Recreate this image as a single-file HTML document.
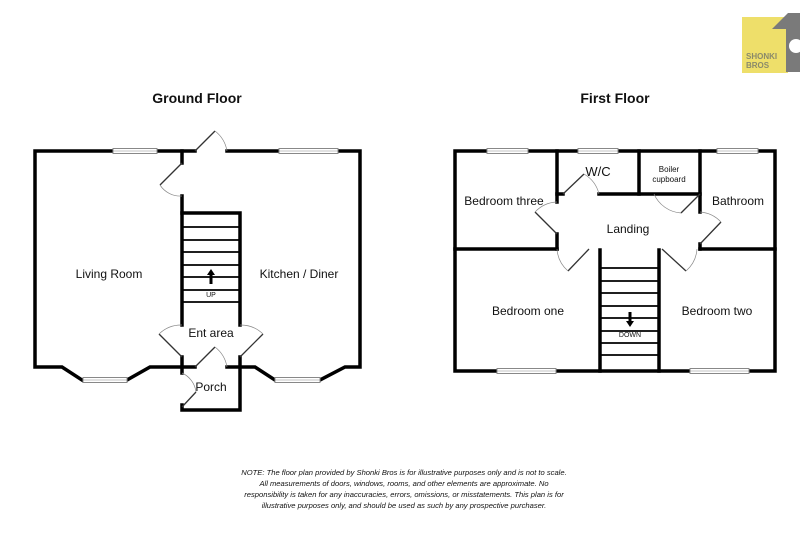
<!DOCTYPE html>
<html><head><meta charset="utf-8"><style>
html,body{margin:0;padding:0;background:#fff;}
svg{display:block}
text{font-family:"Liberation Sans",sans-serif;fill:#111}
</style></head><body>
<svg width="811" height="546" viewBox="0 0 811 546" xmlns="http://www.w3.org/2000/svg">
<rect width="811" height="546" fill="#fff"/>
<!-- logo -->
<rect x="742" y="17" width="46" height="56" fill="#eedf6a"/>
<polygon points="772,29 788,13 800,13 800,72 786,72 786,29" fill="#7a7a7a"/>
<circle cx="796" cy="46" r="7" fill="#fff"/>
<text x="746" y="59" font-size="8" font-weight="bold" style="fill:#8a8a6a">SHONKI</text>
<text x="746" y="68" font-size="8" font-weight="bold" style="fill:#8a8a6a">BROS</text>

<text x="197" y="103" font-size="14" font-weight="bold" text-anchor="middle">Ground Floor</text>
<text x="615" y="103" font-size="14" font-weight="bold" text-anchor="middle">First Floor</text>

<g fill="none" stroke="#000" stroke-width="3.5" stroke-linecap="square">
<polyline points="195,151 35,151 35,367 62,367 82,380"/>
<polyline points="127,380 150,367 195,367"/>
<polyline points="227,151 360,151 360,367 345,367 320,380"/>
<polyline points="275,380 255,367 227,367"/>
<line x1="182" y1="151" x2="182" y2="163"/>
<line x1="182" y1="196" x2="182" y2="325"/>
<polyline points="182,213 240,213 240,325"/>
<line x1="182" y1="357" x2="182" y2="373"/>
<polyline points="182,405 182,410 240,410 240,357"/>
<rect x="455" y="151" width="320" height="220"/>
<line x1="455" y1="249" x2="557" y2="249"/>
<line x1="700" y1="249" x2="775" y2="249"/>
<line x1="557" y1="151" x2="557" y2="202"/>
<line x1="557" y1="234" x2="557" y2="249"/>
<line x1="557" y1="194" x2="563" y2="194"/>
<line x1="599" y1="194" x2="700" y2="194"/>
<line x1="639" y1="151" x2="639" y2="194"/>
<line x1="700" y1="151" x2="700" y2="212"/>
<line x1="700" y1="244" x2="700" y2="249"/>
<line x1="600" y1="250" x2="600" y2="371"/>
<line x1="659" y1="250" x2="659" y2="371"/>
</g>
<g stroke="#000" stroke-width="1.8">
<line x1="182" y1="227" x2="240" y2="227"/><line x1="182" y1="240" x2="240" y2="240"/>
<line x1="182" y1="252" x2="240" y2="252"/><line x1="182" y1="265" x2="240" y2="265"/>
<line x1="182" y1="277" x2="240" y2="277"/><line x1="182" y1="290" x2="240" y2="290"/>
<line x1="182" y1="302" x2="240" y2="302"/>
<line x1="600" y1="268" x2="659" y2="268"/><line x1="600" y1="281" x2="659" y2="281"/>
<line x1="600" y1="293" x2="659" y2="293"/><line x1="600" y1="306" x2="659" y2="306"/>
<line x1="600" y1="318" x2="659" y2="318"/><line x1="600" y1="331" x2="659" y2="331"/>
<line x1="600" y1="343" x2="659" y2="343"/><line x1="600" y1="355" x2="659" y2="355"/>
</g>
<polygon points="211,269 207,275 209.5,275 209.5,284 212.5,284 212.5,275 215,275" fill="#000"/>
<polygon points="630,327 626,321 628.5,321 628.5,312 631.5,312 631.5,321 634,321" fill="#000"/>
<text x="211" y="297" font-size="7" text-anchor="middle">UP</text>
<text x="630" y="337" font-size="7" text-anchor="middle">DOWN</text>
<g fill="#fff" stroke="#888" stroke-width="1">
<rect x="113" y="148.5" width="44" height="5"/><rect x="279" y="148.5" width="59" height="5"/>
<rect x="83" y="377.5" width="44" height="5"/><rect x="275" y="377.5" width="45" height="5"/>
<rect x="487" y="148.5" width="41" height="5"/><rect x="578" y="148.5" width="40" height="5"/>
<rect x="717" y="148.5" width="41" height="5"/>
<rect x="497" y="368.5" width="59" height="5"/><rect x="690" y="368.5" width="59" height="5"/>
</g>
<g fill="none" stroke="#888" stroke-width="0.6">
<line x1="113" y1="151" x2="157" y2="151"/><line x1="279" y1="151" x2="338" y2="151"/>
<line x1="83" y1="380" x2="127" y2="380"/><line x1="275" y1="380" x2="320" y2="380"/>
<line x1="487" y1="151" x2="528" y2="151"/><line x1="578" y1="151" x2="618" y2="151"/>
<line x1="717" y1="151" x2="758" y2="151"/><line x1="497" y1="371" x2="556" y2="371"/><line x1="690" y1="371" x2="749" y2="371"/>
</g>
<g stroke="#333" stroke-width="1.3" fill="none">
<line x1="195" y1="151" x2="215" y2="131"/>
<line x1="182" y1="163" x2="160" y2="185"/>
<line x1="182" y1="357" x2="159" y2="334"/>
<line x1="240" y1="357" x2="263" y2="334"/>
<line x1="195" y1="367" x2="215" y2="347"/>
<line x1="182" y1="407" x2="196" y2="392"/>
<line x1="563" y1="194" x2="584" y2="174"/>
<line x1="557" y1="234" x2="535" y2="212"/>
<line x1="589" y1="249" x2="568" y2="271"/>
<line x1="700" y1="194" x2="681" y2="213"/>
<line x1="700" y1="244" x2="721" y2="222"/>
<line x1="662" y1="249" x2="686" y2="271"/>
</g>
<g stroke="#888" stroke-width="0.7" fill="none">
<path d="M215,131 A32,32 0 0 1 227,151"/>
<path d="M160,185 A24,24 0 0 0 182,196"/>
<path d="M159,334 A32,32 0 0 1 182,325"/>
<path d="M263,334 A32,32 0 0 0 240,325"/>
<path d="M215,347 A32,32 0 0 1 227,367"/>
<path d="M182,373 A24,24 0 0 1 196,392"/>
<path d="M584,174 A32,32 0 0 1 599,194"/>
<path d="M535,212 A32,32 0 0 1 557,202"/>
<path d="M568,271 A32,32 0 0 1 557,249"/>
<path d="M681,213 A32,32 0 0 1 654,194"/>
<path d="M721,222 A32,32 0 0 0 700,212"/>
<path d="M686,271 A32,32 0 0 0 697,249"/>
</g>
<g font-size="12">
<text x="109" y="278" text-anchor="middle">Living Room</text>
<text x="299" y="278" text-anchor="middle">Kitchen / Diner</text>
<text x="211" y="337" text-anchor="middle">Ent area</text>
<text x="211" y="391" text-anchor="middle">Porch</text>
<text x="504" y="205" text-anchor="middle">Bedroom three</text>
<text x="598" y="176" text-anchor="middle" font-size="13">W/C</text>
<text x="738" y="205" text-anchor="middle">Bathroom</text>
<text x="628" y="233" text-anchor="middle">Landing</text>
<text x="528" y="315" text-anchor="middle">Bedroom one</text>
<text x="717" y="315" text-anchor="middle">Bedroom two</text>
</g>
<text x="669" y="172" font-size="8" text-anchor="middle">Boiler</text>
<text x="669" y="182" font-size="8" text-anchor="middle">cupboard</text>
<g font-size="7.6" font-style="italic" text-anchor="middle" style="fill:#333">
<text x="404" y="475">NOTE: The floor plan provided by Shonki Bros is for illustrative purposes only and is not to scale.</text>
<text x="404" y="486">All measurements of doors, windows, rooms, and other elements are approximate. No</text>
<text x="404" y="497">responsibility is taken for any inaccuracies, errors, omissions, or misstatements. This plan is for</text>
<text x="404" y="508">illustrative purposes only, and should be used as such by any prospective purchaser.</text>
</g>
</svg>
</body></html>
